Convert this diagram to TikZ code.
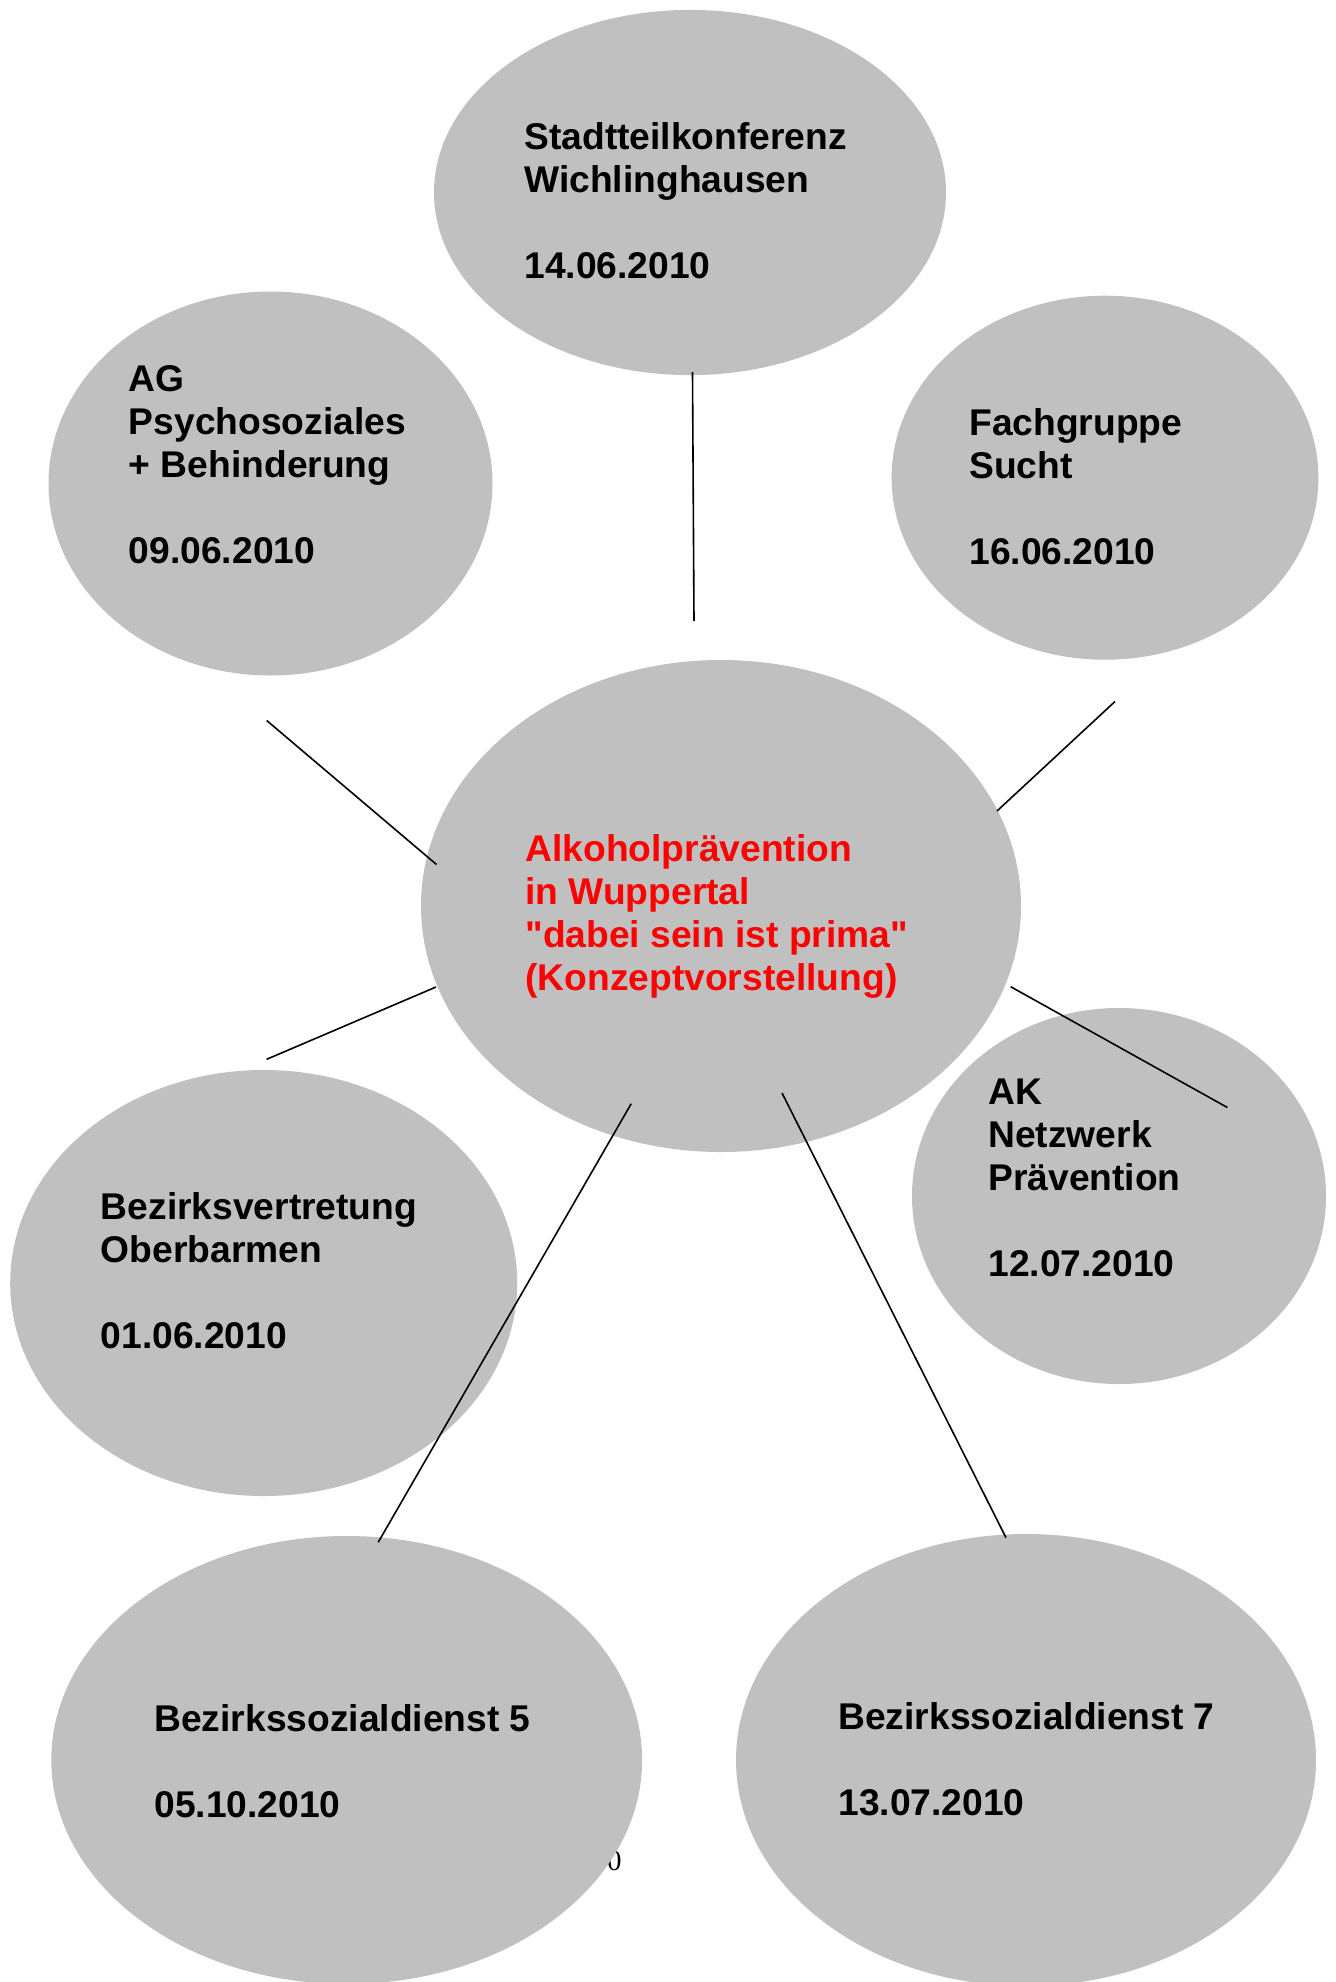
\documentclass[tikz,border=0pt]{standalone}
\usepackage{fontspec}
\setmainfont{Liberation Sans}[Ligatures=TeXOff]
\newfontfamily\strayserif{Liberation Serif}
\usetikzlibrary{shapes.geometric}
\definecolor{silverfill}{HTML}{C0C0C0}
\definecolor{titlered}{HTML}{FF0000}
\newcommand\blocktext[1]{\parbox[t]{400pt}{\fontsize{18.6pt}{21.5pt}\selectfont\bfseries\raggedright #1}}
\begin{document}
\begin{tikzpicture}[x=0.5pt,y=-0.5pt,
  bubble/.style={ellipse, fill=silverfill, draw=none, inner sep=0pt},
  lbl/.style={anchor=base west, inner sep=0pt},
  link/.style={line width=0.8pt, black}]
\useasboundingbox (0,0) rectangle (1336,1982);
\fill[white] (0,0) rectangle (1336,1982);

% stray glyph behind the lower left bubble
\node[anchor=base east, inner sep=0pt, font=\strayserif\fontsize{14.5pt}{17pt}\selectfont] (stray) at (622,1870) {0};

% bubbles
\node[bubble, minimum width=256pt, minimum height=182.6pt] (stadt) at (690,192.5) {};
\node[bubble, minimum width=222pt, minimum height=192pt] (ag) at (270.5,483.5) {};
\node[bubble, minimum width=213.4pt, minimum height=182pt] (fach) at (1105,477.7) {};
\node[bubble, minimum width=300pt, minimum height=246pt] (center) at (721,906) {};
\node[bubble, minimum width=253.5pt, minimum height=213pt] (bv) at (263.7,1283) {};
\node[bubble, minimum width=207pt, minimum height=188pt] (ak) at (1119,1196) {};
\node[bubble, minimum width=295.4pt, minimum height=224pt] (bsd5) at (346.7,1760) {};
\node[bubble, minimum width=290pt, minimum height=226pt] (bsd7) at (1026,1760) {};

% texts
\node[lbl] (tstadt) at (524,149) {\blocktext{Stadtteilkonferenz\\Wichlinghausen\\[21.5pt]14.06.2010}};
\node[lbl] (tag) at (128.5,391) {\blocktext{AG\\Psychosoziales\\+ Behinderung\\[21.5pt]09.06.2010}};
\node[lbl] (tfach) at (969,435) {\blocktext{Fachgruppe\\Sucht\\[21.5pt]16.06.2010}};
\node[lbl, text=titlered] (tcenter) at (525,861) {\blocktext{Alkoholprävention\\in Wuppertal\\"dabei sein ist prima"\\(Konzeptvorstellung)}};
\node[lbl] (tbv) at (100.5,1219) {\blocktext{Bezirksvertretung\\Oberbarmen\\[21.5pt]01.06.2010}};
\node[lbl] (tak) at (988,1104.5) {\blocktext{AK\\Netzwerk\\Prävention\\[21.5pt]12.07.2010}};
\node[lbl] (tbsd5) at (154,1731) {\blocktext{Bezirkssozialdienst 5\\[21.5pt]05.10.2010}};
\node[lbl] (tbsd7) at (838,1729) {\blocktext{Bezirkssozialdienst 7\\[21.5pt]13.07.2010}};

% connector end points
\coordinate (a1) at (692.5,372);   \coordinate (a2) at (694,621);
\coordinate (b1) at (266.7,720.5); \coordinate (b2) at (436.5,864.5);
\coordinate (c1) at (1115,701.5);  \coordinate (c2) at (997,811);
\coordinate (d1) at (266.6,1059.3);\coordinate (d2) at (436,987);
\coordinate (e1) at (1010.7,986.7);\coordinate (e2) at (1227.4,1107.5);
\coordinate (f1) at (631.2,1103.7);\coordinate (f2) at (378.2,1542.3);
\coordinate (g1) at (782,1093);    \coordinate (g2) at (1006,1537.7);

\draw[link] (a1) -- (a2);
\draw[link] (b1) -- (b2);
\draw[link] (c1) -- (c2);
\draw[link] (d1) -- (d2);
\draw[link] (e1) -- (e2);
\draw[link] (f1) -- (f2);
\draw[link] (g1) -- (g2);
\end{tikzpicture}
\end{document}
